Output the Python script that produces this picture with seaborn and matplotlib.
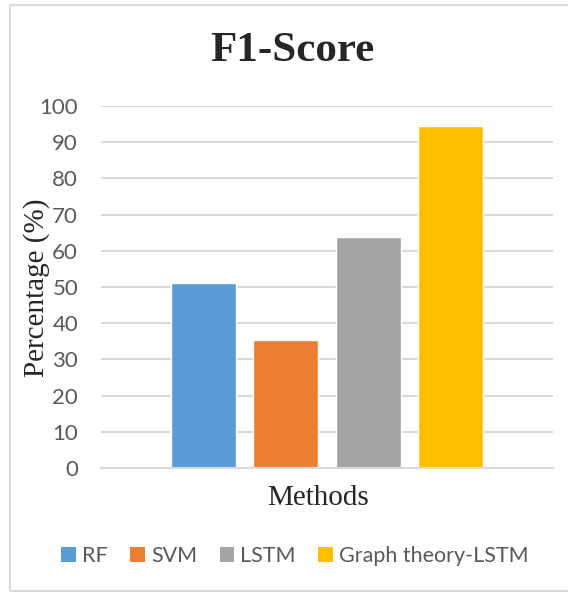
import matplotlib
matplotlib.use("Agg")
import matplotlib.pyplot as plt
from matplotlib.patches import Patch, Rectangle
import pandas as pd
import seaborn as sns

# F1-score of each method (%)
methods = ["RF", "SVM", "LSTM", "Graph theory-LSTM"]
f1_scores = [51.0, 35.3, 63.8, 94.4]
colors = ["#5B9BD5", "#ED7D31", "#A5A5A5", "#FFC000"]
y_ticks = [0, 10, 20, 30, 40, 50, 60, 70, 80, 90, 100]

df = pd.DataFrame({"group": ["F1"] * len(methods), "method": methods, "value": f1_scores})

sns.set_theme(style="white")
plt.rcParams["font.family"] = ["Lato", "DejaVu Sans"]

W, H = 568, 593
fig = plt.figure(figsize=(W / 100, H / 100), dpi=100)
fig.patch.set_facecolor("white")

ax = fig.add_axes([101 / W, (H - 468) / H, (553 - 101) / W, (468 - 106) / H])
sns.barplot(data=df, x="group", y="value", hue="method", hue_order=methods,
            palette=colors, width=0.728, gap=0.21, saturation=1, legend=False, ax=ax)

ax.set_xlim(-0.5, 0.5)
ax.set_ylim(0, 100)
ax.set_yticks(y_ticks)
ax.set_yticklabels([str(t) for t in y_ticks], color="#595959", fontsize=16)
ax.set_xticks([])
ax.tick_params(axis="y", length=0, pad=16.5)
ax.grid(axis="y", color="#D9D9D9", linewidth=1.5)
ax.set_axisbelow(True)
for side in ["top", "right", "left"]:
    ax.spines[side].set_visible(False)
ax.spines["bottom"].set_color("#D9D9D9")
ax.spines["bottom"].set_linewidth(1.5)
ax.set_xlabel("")
ax.set_ylabel("")

serif = ["Liberation Serif", "DejaVu Serif"]
fig.text(292 / W, 1 - 51 / H, "F1-Score", ha="center", va="center",
         fontsize=31, fontweight="bold", family=serif)
fig.text(37 / W, 1 - 288 / H, "Percentage (%)", ha="center", va="center",
         rotation=90, fontsize=21, family=serif)
fig.text(318 / W, 1 - 498 / H, "Methods", ha="center", va="center",
         fontsize=21, family=serif)

handles = [Patch(facecolor=c, edgecolor="none", label=m) for m, c in zip(methods, colors)]
leg = fig.legend(handles=handles, loc="center", bbox_to_anchor=(295 / W, 1 - 556 / H),
                 ncol=4, frameon=False, fontsize=15.5, handlelength=0.68, handleheight=0.68,
                 handletextpad=0.28, columnspacing=1.05)
for t in leg.get_texts():
    t.set_color("#595959")

fig.patches.append(Rectangle((10 / W, 2 / H), 1.0, (H - 7) / H, transform=fig.transFigure,
                             fill=False, edgecolor="#D9D9D9", linewidth=1.5))

fig.savefig("out.png", dpi=100)
